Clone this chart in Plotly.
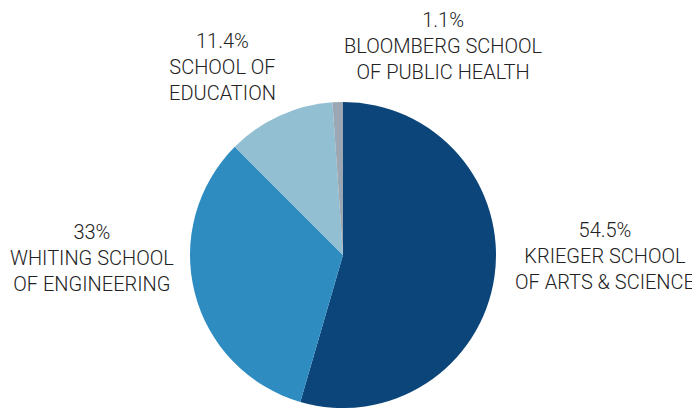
import plotly.graph_objects as go

schools = ["KRIEGER SCHOOL<br>OF ARTS & SCIENCE", "WHITING SCHOOL<br>OF ENGINEERING",
           "SCHOOL OF<br>EDUCATION", "BLOOMBERG SCHOOL<br>OF PUBLIC HEALTH"]
shares = [54.5, 33, 11.4, 1.1]
share_labels = ["54.5%", "33%", "11.4%", "1.1%"]
colors = ["#0b457a", "#2f8cc1", "#93bfd3", "#9ba8b3"]
label_xy = [(605, 256), (92, 258), (222, 67), (443, 46)]

OFF = 8  # page body margin
W, H = 700 - OFF, 408 - OFF
cx, cy, r = 343 - OFF, 255 - OFF, 153

fig = go.Figure(go.Pie(
    labels=schools, values=shares, sort=False, direction="clockwise", rotation=0,
    marker=dict(colors=colors, line=dict(width=0)), textinfo="none", hoverinfo="label+percent",
    domain=dict(x=[(cx - r) / W, (cx + r) / W], y=[0, (H - (cy - r)) / H]),
    showlegend=False,
))

for lab, pct, (x, y) in zip(schools, share_labels, label_xy):
    fig.add_annotation(x=(x - OFF) / W, y=1 - (y - OFF) / H, xref="paper", yref="paper",
                       text=f"{pct}<br>{lab}", showarrow=False, align="center",
                       xanchor="center", yanchor="middle",
                       font=dict(family="Roboto", size=20, color="#222222", weight=300))

fig.update_layout(width=W, height=H, margin=dict(l=0, r=0, t=0, b=0),
                  paper_bgcolor="white", plot_bgcolor="white")
fig.write_html("out.html")
